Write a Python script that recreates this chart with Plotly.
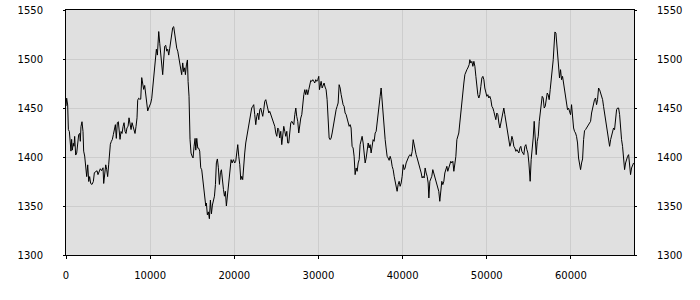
import plotly.graph_objects as go

# ---- data ----
x_vals = [
    0, 80, 200, 280, 400, 510, 590, 670, 750, 870, 950, 1030, 1150, 1270, 1390, 1510, 1630, 1700, 1780, 1900,
    2020, 2100, 2220, 2340, 2460, 2580, 2700, 2810, 2930, 3090, 3250, 3370, 3530, 3690, 3800, 3920, 4080, 4240,
    4400, 4480, 4600, 4720, 4840, 4950, 5070, 5150, 5270, 5390, 5510, 5630, 5750, 5870, 5980, 6100, 6220, 6300,
    6420, 6540, 6660, 6780, 6900, 7020, 7130, 7250, 7370, 7490, 7610, 7730, 7850, 7970, 8090, 8200, 8320, 8440,
    8520, 8640, 8760, 8880, 9000, 9120, 9230, 9350, 9470, 9590, 9710, 9830, 9950, 10070, 10190, 10300, 10420,
    10540, 10660, 10740, 10860, 10940, 11020, 11140, 11260, 11370, 11490, 11610, 11730, 11850, 11970, 12090,
    12210, 12330, 12440, 12560, 12680, 12800, 12920, 13040, 13160, 13280, 13400, 13510, 13630, 13750, 13870,
    13990, 14110, 14190, 14310, 14430, 14510, 14620, 14740, 14860, 14980, 15100, 15220, 15340, 15420, 15540,
    15660, 15770, 15890, 16010, 16130, 16250, 16370, 16490, 16610, 16680, 16800, 16920, 17040, 17160, 17280,
    17400, 17520, 17640, 17760, 17870, 17990, 18110, 18230, 18350, 18470, 18590, 18710, 18830, 18940, 19060,
    19180, 19300, 19420, 19540,
    19620, 19740, 19890, 20050, 20170, 20290, 20410, 20530, 20650, 20770, 20890, 21000, 21120, 21240, 21360,
    21480, 21600, 21720, 21840, 21960, 22070, 22190, 22310, 22430, 22550, 22670, 22790, 22910, 23030, 23140,
    23260, 23380, 23500, 23620, 23740, 23860, 23980, 24100, 24210, 24330, 24450, 24570, 24690, 24810, 24930,
    25050, 25170, 25280, 25400, 25520, 25640, 25760, 25880, 26000, 26120, 26240, 26350, 26470, 26590, 26710,
    26830, 26950, 27070, 27190, 27310, 27420, 27540, 27660, 27780, 27900, 28020, 28140, 28260, 28380, 28490,
    28610, 28730, 28850, 28970, 29090, 29210, 29330, 29450, 29560, 29680, 29800, 29920, 30040, 30120, 30200,
    30320, 30440, 30560, 30670, 30790, 30910, 31030, 31150, 31270, 31390, 31510, 31630, 31740, 31860, 31980,
    32100, 32220, 32340, 32460, 32580, 32700, 32810, 32930, 33050, 33170, 33290, 33410, 33530, 33650, 33770,
    33880, 34000, 34120, 34240, 34360, 34480, 34600, 34720, 34840, 34950, 35070, 35190, 35310, 35430, 35550,
    35670, 35790, 35910, 36020, 36140, 36260, 36380, 36500, 36620, 36740, 36860, 36970, 37090, 37210, 37330,
    37450, 37570, 37690, 37810, 37930, 38040, 38160, 38280, 38400, 38520, 38640, 38760, 38880, 39000, 39120,
    39230, 39350, 39470, 39590, 39710, 39830, 39950, 40070, 40190, 40300, 40420, 40540, 40660, 40780, 40900,
    41020, 41140, 41260, 41370, 41490, 41610, 41730, 41850, 41970, 42090, 42210, 42320, 42440, 42560, 42680,
    42800, 42920, 43040, 43120, 43240, 43350, 43470, 43590, 43710, 43830, 43950, 44070, 44190, 44300, 44420,
    44540, 44660, 44780, 44900, 45020, 45140, 45260, 45370, 45490, 45610, 45730, 45850, 45970, 46090, 46210,
    46330, 46450, 46560, 46680, 46800, 46920, 47040, 47160, 47280, 47400, 47520, 47640, 47750, 47870,
    47910, 47990, 48110, 48230, 48350, 48470, 48590, 48710, 48820, 48940, 49060, 49180, 49300, 49420, 49540,
    49660, 49770, 49890, 50010, 50130, 50250, 50370, 50490, 50610, 50730, 50840, 50960, 51080, 51200, 51320,
    51440, 51560, 51680, 51800, 51910, 52030, 52150, 52270, 52390, 52510, 52630, 52750, 52870, 52990, 53100,
    53220, 53340, 53460, 53580, 53700, 53820, 53940, 54050, 54170, 54290, 54410, 54530, 54650, 54770, 54890,
    55010, 55090, 55160, 55280, 55400, 55520, 55640, 55760, 55880, 56000, 56120, 56240, 56350, 56470, 56590,
    56710, 56830, 56950, 57070, 57190, 57300, 57420, 57540, 57660, 57780, 57900, 58020, 58100, 58220, 58330,
    58410, 58530, 58650, 58770, 58890, 59010, 59130, 59250, 59370, 59480, 59600, 59720, 59840, 59960, 60080,
    60200, 60320, 60430, 60550, 60670, 60790, 60910, 61030, 61150, 61270, 61390, 61510, 61620, 61740, 61860,
    61980, 62100, 62220, 62340, 62460, 62580, 62690, 62810, 62930, 63050, 63170, 63290, 63410, 63530, 63650,
    63770, 63880, 64000, 64120, 64240, 64360, 64480, 64600, 64720, 64840, 64950, 65070, 65190, 65310, 65430,
    65550, 65670, 65790, 65900, 66020, 66140, 66260, 66380, 66500, 66620, 66740, 66860, 66980, 67090, 67210,
    67330, 67450,
]

y_vals = [
    1452, 1460, 1453, 1428, 1426, 1414, 1406, 1418, 1407, 1414, 1411, 1421, 1402, 1404, 1411, 1423, 1424, 1416, 1431, 1436,
    1426, 1406, 1401, 1390, 1380, 1392, 1375, 1380, 1373, 1372, 1375, 1384, 1385, 1386, 1382, 1384, 1388, 1386,
    1389, 1373, 1380, 1392, 1387, 1380, 1392, 1401, 1413, 1416, 1418, 1423, 1430, 1433, 1419, 1435, 1436, 1426,
    1418, 1426, 1424, 1431, 1435, 1426, 1424, 1430, 1431, 1440, 1433, 1428, 1435, 1431, 1426, 1424, 1431, 1440,
    1458, 1460, 1459, 1459, 1481, 1474, 1469, 1473, 1465, 1455, 1447, 1450, 1452, 1455, 1460, 1469, 1484,
    1487, 1499, 1510, 1504, 1516, 1528, 1516, 1506, 1494, 1484, 1499, 1513, 1514, 1508, 1510,
    1504, 1511, 1518, 1525, 1532, 1533, 1524, 1521, 1511, 1508, 1501, 1494, 1489, 1484, 1496,
    1487, 1491, 1484, 1494, 1499, 1477, 1462, 1418, 1404, 1401, 1399, 1411, 1419, 1407, 1419,
    1409, 1409, 1406, 1389, 1387, 1377, 1365, 1360, 1350, 1353, 1341, 1344, 1337, 1356, 1342,
    1351, 1356, 1360, 1372, 1394, 1398, 1389, 1372, 1384, 1387, 1375, 1367, 1360, 1365, 1350,
    1360, 1364, 1374, 1387,
    1397.3, 1393.9, 1397.3, 1393.9, 1395.6, 1404.1, 1412.6, 1400.7, 1392.2, 1376.9, 1380.3, 1376.9, 1393.9, 1404.1, 1414.3,
    1421.1, 1426.2, 1434.7, 1438.1, 1444.9, 1450.0, 1451.7, 1453.4, 1443.2, 1433.0, 1441.5, 1444.9, 1438.1, 1448.3, 1450.0,
    1446.6, 1441.5, 1448.3, 1456.8, 1458.5, 1453.4, 1451.7, 1444.9, 1446.6, 1443.2, 1441.5, 1438.1, 1434.7, 1431.3, 1424.5,
    1421.1, 1429.6, 1427.9, 1419.4, 1426.2, 1412.6, 1421.1, 1431.3, 1426.2, 1421.1, 1426.2, 1414.3, 1414.3, 1422.8, 1434.7,
    1436.4, 1434.7, 1433.0, 1443.2, 1450.0, 1441.5, 1436.4, 1424.5, 1434.7, 1439.8, 1443.2, 1455.1, 1463.6, 1468.7, 1463.6,
    1468.7, 1463.6, 1468.7, 1473.8, 1478.2, 1477.2, 1478.9, 1477.2, 1475.5, 1478.9, 1477.2, 1478.9, 1482.3, 1468.7, 1473.8,
    1477.2, 1470.4, 1473.8, 1475.5, 1471.4, 1468.7, 1458.5, 1429.6, 1419.4, 1417.7, 1419.4, 1424.5, 1431.3, 1438.1, 1443.2,
    1448.3, 1451.7, 1455.1, 1473.8, 1470.4, 1463.6, 1458.5, 1453.4, 1451.7, 1444.9, 1443.2, 1438.1, 1434.7, 1431.3, 1433.0,
    1429.6, 1410.9, 1409.2, 1400.7, 1382.0, 1388.8, 1385.4, 1393.9, 1397.3, 1412.6, 1419.4, 1421.1, 1414.3, 1405.8, 1393.9,
    1399.0, 1407.5, 1414.3, 1409.2, 1412.6, 1404.1, 1412.6, 1417.7, 1416.0, 1424.5, 1426.2, 1436.4, 1443.2, 1455.1, 1461.9,
    1470.4, 1455.1, 1444.9, 1431.3, 1417.7, 1409.2, 1400.7, 1399.0, 1396.6, 1400.7, 1397.3, 1390.5, 1387.1, 1380.3, 1375.2,
    1370.1, 1365.0, 1371.8, 1375.2, 1370.1, 1373.5, 1380.3, 1392.2, 1387.1, 1388.8, 1393.9, 1397.3, 1399.0, 1401.4, 1402.4,
    1400.7, 1405.8, 1417.7, 1412.6, 1405.8, 1402.4, 1399.0, 1395.6, 1390.5, 1387.1, 1383.7, 1378.6, 1380.3, 1378.6, 1388.8,
    1383.7, 1380.3, 1373.5, 1358.2, 1375.2, 1378.6, 1380.3, 1387.1, 1383.7, 1378.6, 1376.9, 1371.8, 1370.1, 1365.0, 1354.8,
    1363.3, 1375.2, 1371.8, 1375.2, 1383.7, 1387.1, 1390.5, 1385.4, 1388.8, 1392.2, 1395.6, 1393.9, 1395.6, 1385.4, 1393.9,
    1400.7, 1417.7, 1421.1, 1424.5, 1434.7, 1446.6, 1455.1, 1463.6, 1475.5, 1484.0, 1487.4, 1489.1, 1490.8, 1492.5,
    1494.2, 1499.3, 1495.9, 1497.6, 1492.5, 1497.6, 1492.5, 1482.3, 1472.1, 1463.6, 1460.2, 1463.6, 1472.1, 1480.6, 1482.3,
    1478.9, 1470.4, 1465.3, 1461.9, 1463.6, 1460.2, 1461.9, 1458.5, 1451.7, 1450.0, 1446.6, 1443.2, 1438.1, 1444.9, 1443.2,
    1434.7, 1429.6, 1434.7, 1441.5, 1446.6, 1450.0, 1443.2, 1436.4, 1427.9, 1422.8, 1416.0, 1410.9, 1414.3, 1421.1, 1417.7,
    1410.9, 1409.2, 1405.8, 1407.5, 1405.8, 1404.1, 1409.2, 1410.9, 1405.8, 1404.1, 1402.4, 1410.9, 1412.6, 1407.5, 1404.1,
    1393.9, 1383.7, 1375.2, 1397.3, 1405.8, 1419.4, 1436.4, 1410.9, 1402.4, 1416.0, 1421.1, 1436.4, 1443.2, 1451.7, 1461.9,
    1460.2, 1450.0, 1451.7, 1460.2, 1465.3, 1463.6, 1458.5, 1468.7, 1477.2, 1485.7, 1499.3, 1516.3, 1527.6, 1526.5, 1512.9,
    1499.3, 1485.7, 1480.6, 1489.1, 1478.9, 1482.3, 1475.5, 1468.7, 1458.5, 1453.4, 1448.3, 1450.0, 1444.9, 1443.2, 1453.4,
    1439.8, 1429.6, 1426.2, 1424.5, 1421.1, 1414.3, 1399.0, 1393.9, 1387.1, 1393.9, 1398.0, 1417.7, 1426.8, 1427.9, 1429.6,
    1431.3, 1433.0, 1434.7, 1436.4, 1444.9, 1450.0, 1451.7, 1458.5, 1460.2, 1453.4, 1458.5, 1470.4, 1468.7, 1465.3, 1463.6,
    1458.5, 1451.7, 1444.9, 1439.8, 1433.0, 1426.2, 1417.7, 1410.9, 1417.7, 1421.1, 1424.5, 1429.6, 1427.9, 1441.5, 1448.3,
    1450.0, 1450.0, 1443.2, 1426.2, 1417.7, 1410.9, 1400.7, 1387.1, 1393.9, 1399.0, 1400.7, 1402.4, 1388.8, 1382.0, 1388.8,
    1392.2, 1393.9,
]

x_ticks = [0, 10000, 20000, 30000, 40000, 50000, 60000]
y_ticks = [1300, 1350, 1400, 1450, 1500, 1550]
x_range = [0, 67500]
y_range = [1300, 1550]

font = dict(family="DejaVu Sans", size=10, color="#000000")

fig = go.Figure()
fig.add_trace(go.Scatter(x=x_vals, y=y_vals, mode="lines",
                         line=dict(color="#000000", width=1),
                         showlegend=False, hoverinfo="skip"))
# invisible helper trace so the right-hand axis is drawn
fig.add_trace(go.Scatter(x=x_vals[:1], y=y_vals[:1], yaxis="y2", mode="markers",
                         marker=dict(opacity=0), showlegend=False, hoverinfo="skip"))

fig.update_layout(
    width=700, height=300,
    margin=dict(l=66, r=66, t=10, b=45, autoexpand=False),
    paper_bgcolor="#ffffff",
    plot_bgcolor="#e0e0e0",
    font=font,
    xaxis=dict(range=x_range, tickvals=x_ticks, ticktext=[str(v) for v in x_ticks],
               showgrid=True, gridcolor="#cdcdcd", gridwidth=1, zeroline=False,
               showline=True, linecolor="#000000", linewidth=1, mirror=True,
               ticks="outside", ticklen=3, tickcolor="#000000", tickwidth=1,
               ticklabelstandoff=8, tickfont=font, automargin=False),
    yaxis=dict(range=y_range, tickvals=y_ticks, ticktext=[str(v) for v in y_ticks],
               showgrid=True, gridcolor="#cdcdcd", gridwidth=1, zeroline=False,
               showline=True, linecolor="#000000", linewidth=1, mirror=True,
               ticks="outside", ticklen=2, tickcolor="#000000", tickwidth=1,
               ticklabelstandoff=18, tickfont=font, automargin=False),
    yaxis2=dict(range=y_range, tickvals=y_ticks, ticktext=[str(v) for v in y_ticks],
                overlaying="y", side="right", matches="y",
                showgrid=False, zeroline=False, showline=False,
                ticks="outside", ticklen=2, tickcolor="#000000", tickwidth=1,
                ticklabelstandoff=18, tickfont=font, automargin=False),
)

fig.write_html("out.html")
